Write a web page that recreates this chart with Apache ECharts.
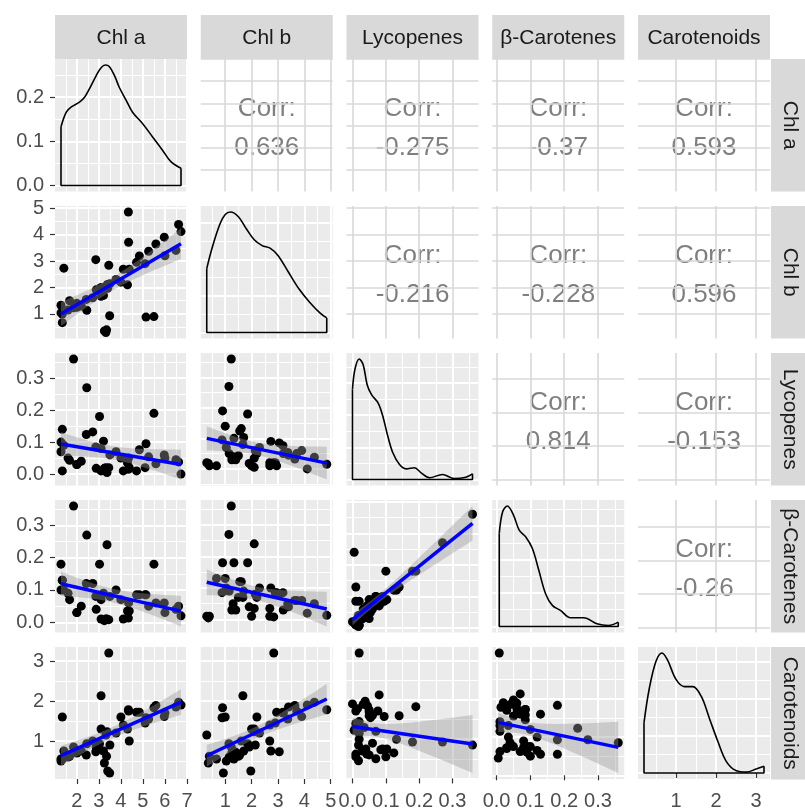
<!DOCTYPE html>
<html><head><meta charset="utf-8">
<script src="https://cdn.jsdelivr.net/npm/echarts@6/dist/echarts.min.js"></script>
<style>html,body{margin:0;padding:0;background:#fff}#c{width:805px;height:811px}</style>
</head><body><div id="c"></div>
<script>
// ---------------- data ----------------
const varNames = ['Chl a', 'Chl b', 'Lycopenes', 'β-Carotenes', 'Carotenoids'];

const chlA = [1.85,2.45,5.50,5.14,3.03,1.34,3.45,3.10,1.41,2.86,4.11,4.38,4.34,4.35,6.62,6.73,5.97,5.59,5.26,4.84,
              3.49,3.40,3.25,3.35,3.32,1.28,1.28,1.34,1.67,2.00,2.00,2.43,2.72,2.88,3.21,3.10,3.50,3.78,4.00,4.30,
              4.71,5.10,6.00,6.50,2.20,1.60,3.37];
const chlB = [1.23,1.14,0.90,0.88,1.85,1.00,2.84,1.67,2.73,3.05,2.69,2.69,4.85,3.71,4.38,4.11,3.90,3.64,3.37,3.19,
              0.93,1.97,0.36,0.40,0.30,1.33,1.04,0.67,1.50,1.25,1.40,1.55,1.61,1.91,1.70,2.00,2.14,2.30,2.20,2.10,
              2.95,2.90,3.20,3.40,1.30,1.15,2.10];
const lyc  = [0.36,0.27,0.19,0.095,0.18,0.14,0.02,0.08,0.09,0.085,0.01,0.02,0.015,0.05,0.038,0.00,0.06,0.032,0.054,0.076,
              null,null,0.018,0.01,0.02,0.10,0.07,0.01,0.043,0.03,0.03,0.124,0.132,0.018,0.103,0.01,0.06,0.07,0.05,0.035,
              0.01,0.02,0.05,0.045,0.04,0.05,0.005];
const bcar = [0.36,0.27,0.18,0.085,0.18,0.13,0.008,0.07,0.10,0.08,0.01,0.035,0.013,0.06,0.05,0.02,0.06,0.06,0.05,0.085,
              null,null,0.005,0.01,0.01,0.18,0.10,0.13,0.07,0.03,0.03,0.12,0.12,0.04,0.09,0.01,0.08,0.10,0.07,0.035,
              0.085,0.085,0.03,0.04,0.05,0.09,0.24];
const car  = [0.85,0.93,1.83,1.58,0.93,1.60,3.20,2.13,0.75,0.73,1.40,1.00,1.78,1.75,1.97,1.90,1.61,1.89,1.55,1.72,
              0.20,0.25,0.45,0.62,1.15,0.55,0.50,0.55,0.62,0.70,0.72,0.65,1.00,0.85,0.75,1.30,0.90,1.20,1.60,1.30,
              1.72,1.45,1.70,1.85,0.75,0.60,1.23];

// correlation labels (upper triangle, row by row)
const corrLabels = ['0.636','-0.275','-0.37','0.593','-0.216','-0.228','0.596','0.814','-0.153','-0.26'];

// density curves
const chlADensX = [1.28,1.52,1.75,2.12,2.35,2.57,2.88,3.10,3.30,3.48,3.71,3.93,4.24,4.53,4.99,5.44,5.89,6.27,6.73];
const chlADensY = [0.133,0.166,0.178,0.189,0.200,0.219,0.249,0.267,0.273,0.269,0.249,0.222,0.193,0.166,0.140,0.110,0.080,0.054,0.039];
const chlBDensX = [0.30,0.50,0.80,1.00,1.20,1.50,1.80,2.10,2.40,2.70,3.00,3.40,3.80,4.20,4.60,4.85];
const chlBDensY = [0.175,0.231,0.297,0.323,0.330,0.317,0.284,0.254,0.238,0.231,0.211,0.165,0.119,0.083,0.053,0.040];
const lycDensX = [0.000,0.007,0.020,0.032,0.044,0.057,0.077,0.091,0.106,0.121,0.141,0.161,0.186,0.206,0.231,0.270,0.305,0.340,0.360];
const lycDensY = [5.60,6.83,7.50,7.15,5.90,5.28,4.76,3.94,2.69,1.66,0.93,0.66,0.73,0.41,0.11,0.31,0.06,0.14,0.35];
const bcarDensX = [0.008,0.018,0.032,0.050,0.067,0.086,0.106,0.125,0.145,0.165,0.189,0.219,0.258,0.297,0.331,0.360];
const bcarDensY = [5.56,6.86,7.20,6.66,5.76,5.36,4.66,3.36,1.96,1.26,0.96,0.52,0.52,0.16,0.06,0.26];
const carDensX = [0.20,0.33,0.50,0.65,0.79,1.00,1.21,1.42,1.63,1.84,2.05,2.26,2.51,2.76,3.02,3.20];
const carDensY = [0.273,0.455,0.605,0.650,0.611,0.507,0.468,0.468,0.416,0.293,0.169,0.062,0.012,0.005,0.023,0.036];

// tick steps and label decimals per variable, and density axis steps per diagonal panel
const majorStep = [1, 1, 0.1, 0.1, 1];
const labelDecimals = [0, 0, 1, 1, 0];
const densityStep = [0.1, 0.1, 2, 2, 0.2];

// ---------------- layout ----------------
const FONT = 'Liberation Sans, Arial, sans-serif';
const colLeft = [55, 200.75, 346.5, 492.25, 638];
const rowTop = [59, 206, 353, 500, 647];
const PW = 132, PH = 132.5;
const T975 = 2.014; // qt(0.975, n-2)

const vars = [chlA, chlB, lyc, bcar, car];
const dens = [[chlADensX, chlADensY],[chlBDensX, chlBDensY],[lycDensX, lycDensY],[bcarDensX, bcarDensY],[carDensX, carDensY]];

function valid(a){ return a.filter(v=>v!==null && v!==undefined); }
function ext(a){ const b=valid(a); return [Math.min.apply(null,b), Math.max.apply(null,b)]; }
function expand(r){ const d=(r[1]-r[0])*0.05; return [r[0]-d, r[1]+d]; }
function niceVals(r, step){ const out=[]; for(let k=Math.ceil(r[0]/step-1e-9); k*step<=r[1]+1e-9; k++) out.push(+(k*step).toFixed(6)); return out; }
function pairs(xa, ya){ const out=[]; for(let q=0;q<xa.length;q++){ if(xa[q]!==null && ya[q]!==null) out.push([xa[q],ya[q]]); } return out; }
function fitLm(pts){
  const n=pts.length; let mx=0,my=0; pts.forEach(p=>{mx+=p[0];my+=p[1];}); mx/=n; my/=n;
  let sxx=0,sxy=0; pts.forEach(p=>{sxx+=(p[0]-mx)**2; sxy+=(p[0]-mx)*(p[1]-my);});
  const b=sxy/sxx, a=my-b*mx; let sse=0; pts.forEach(p=>{sse+=(p[1]-a-b*p[0])**2;});
  return {a,b,s:Math.sqrt(sse/(n-2)),mx,sxx,n};
}

const grids=[], xAxes=[], yAxes=[], series=[], graphics=[];
let ci=0;
for(let i=0;i<5;i++){
  for(let j=0;j<5;j++){
    const k=i*5+j;
    const isCorr=i<j, isDiag=i===j;
    let xr=expand(ext(vars[j]));
    let yr, yStep, yDec;
    grids.push({left:colLeft[j], top:rowTop[i], width:PW, height:PH, show:true,
      backgroundColor:isCorr?'#ffffff':'#ebebeb', borderWidth:0, borderColor:'transparent'});
    if(isDiag){
      const M=Math.max.apply(null,dens[i][1]); yr=[-0.05*M,1.05*M]; yStep=densityStep[i]; yDec=1;
      const pts=dens[i][0].map((x,q)=>[x,dens[i][1][q]]);
      series.push({type:'line',xAxisIndex:k,yAxisIndex:k,data:pts,smooth:0.35,symbol:'none',silent:true,
        lineStyle:{color:'#000',width:1.6},z:3});
      const dx=dens[i][0], dy=dens[i][1], L=dx.length-1;
      series.push({type:'line',xAxisIndex:k,yAxisIndex:k,data:[[dx[0],dy[0]],[dx[0],0],[dx[L],0],[dx[L],dy[L]]],
        symbol:'none',silent:true,lineStyle:{color:'#000',width:1.6},z:3});
    } else if(isCorr){
      yr=expand(ext(vars[i])); yStep=majorStep[i]; yDec=labelDecimals[i];
      graphics.push({type:'text',x:colLeft[j]+PW/2,y:rowTop[i]+PH/2+3,silent:true,
        style:{text:'Corr:\n'+corrLabels[ci],font:'26px '+FONT,fill:'#7f7f7f',align:'center',verticalAlign:'middle',lineHeight:38.7}});
      ci++;
    } else {
      const pts=pairs(vars[j], vars[i]);
      const f=fitLm(pts);
      const xs=Array.from(new Set(pts.map(p=>p[0]))).sort((p,q)=>p-q);
      xr=expand([xs[0], xs[xs.length-1]]);
      const up=[], lo=[];
      xs.forEach(xv=>{const yh=f.a+f.b*xv; const se=f.s*Math.sqrt(1/f.n+(xv-f.mx)**2/f.sxx); up.push([xv,yh+T975*se]); lo.push([xv,yh-T975*se]);});
      const allY=pts.map(p=>p[1]).concat(up.map(p=>p[1]),lo.map(p=>p[1]));
      yr=expand(ext(allY)); yStep=majorStep[i]; yDec=labelDecimals[i];
      series.push({type:'scatter',xAxisIndex:k,yAxisIndex:k,data:pts,symbolSize:9,silent:true,
        itemStyle:{color:'#000',opacity:1},z:2});
      series.push({type:'custom',xAxisIndex:k,yAxisIndex:k,z:3,silent:true,data:[[xs[0],f.a+f.b*xs[0]]],
        renderItem:(function(up,lo){return function(params,api){
          const poly=up.map(p=>api.coord(p)).concat(lo.slice().reverse().map(p=>api.coord(p)));
          return {type:'polygon',shape:{points:poly},style:{fill:'rgba(153,153,153,0.4)'}};
        };})(up,lo)});
      const x0=xs[0], x1=xs[xs.length-1];
      series.push({type:'line',xAxisIndex:k,yAxisIndex:k,data:[[x0,f.a+f.b*x0],[x1,f.a+f.b*x1]],symbol:'none',silent:true,
        lineStyle:{color:'#0000ff',width:3.5},z:4});
    }
    const xStep=majorStep[j], xDec=labelDecimals[j];
    const xv=niceVals(xr,xStep), yv=niceVals(yr,yStep);
    const gridColor=isCorr?'#d9d9d9':'#ffffff', gridW=isCorr?1.6:2;
    xAxes.push({gridIndex:k,type:'value',min:xr[0],max:xr[1],minInterval:xStep,maxInterval:xStep,splitNumber:6,
      axisLine:{show:false},
      axisTick:{show:i===4,length:5,lineStyle:{color:'#333333',width:1.2},customValues:xv},
      axisLabel:{show:i===4,customValues:xv,color:'#4d4d4d',fontSize:20,fontFamily:FONT,margin:12,
        formatter:(v)=>{const r=Math.round(v/xStep)*xStep; return Math.abs(r-v)<1e-6?r.toFixed(xDec):'';}},
      splitLine:{show:true,lineStyle:{color:gridColor,width:gridW}},
      minorTick:{show:false,splitNumber:2},
      minorSplitLine:{show:!isCorr,lineStyle:{color:'#ffffff',width:1}}});
    yAxes.push({gridIndex:k,type:'value',min:yr[0],max:yr[1],minInterval:yStep,maxInterval:yStep,splitNumber:6,
      axisLine:{show:false},
      axisTick:{show:j===0,length:5,lineStyle:{color:'#333333',width:1.2},customValues:yv},
      axisLabel:{show:j===0,customValues:yv,color:'#4d4d4d',fontSize:20,fontFamily:FONT,margin:11,
        formatter:(v)=>{const r=Math.round(v/yStep)*yStep; return Math.abs(r-v)<1e-6?r.toFixed(yDec):'';}},
      splitLine:{show:true,lineStyle:{color:gridColor,width:gridW}},
      minorTick:{show:false,splitNumber:2},
      minorSplitLine:{show:!isCorr,lineStyle:{color:'#ffffff',width:1}}});
  }
}

// strips
for(let j=0;j<5;j++){
  graphics.push({type:'rect',silent:true,shape:{x:colLeft[j],y:15,width:PW,height:44},style:{fill:'#d9d9d9'}});
  graphics.push({type:'text',silent:true,x:colLeft[j]+PW/2,y:38.5,
    style:{text:varNames[j],font:'21px '+FONT,fill:'#1a1a1a',align:'center',verticalAlign:'middle'}});
}
for(let i=0;i<5;i++){
  graphics.push({type:'rect',silent:true,shape:{x:771,y:rowTop[i],width:34,height:PH},style:{fill:'#d9d9d9'}});
  graphics.push({type:'text',silent:true,x:789.5,y:rowTop[i]+PH/2,rotation:-Math.PI/2,
    style:{text:varNames[i],font:'21px '+FONT,fill:'#1a1a1a',align:'center',verticalAlign:'middle'}});
}

const chart=echarts.init(document.getElementById('c'),null,{renderer:'canvas'});
chart.setOption({animation:false,backgroundColor:'#ffffff',grid:grids,xAxis:xAxes,yAxis:yAxes,series:series,graphic:graphics});
</script></body></html>
